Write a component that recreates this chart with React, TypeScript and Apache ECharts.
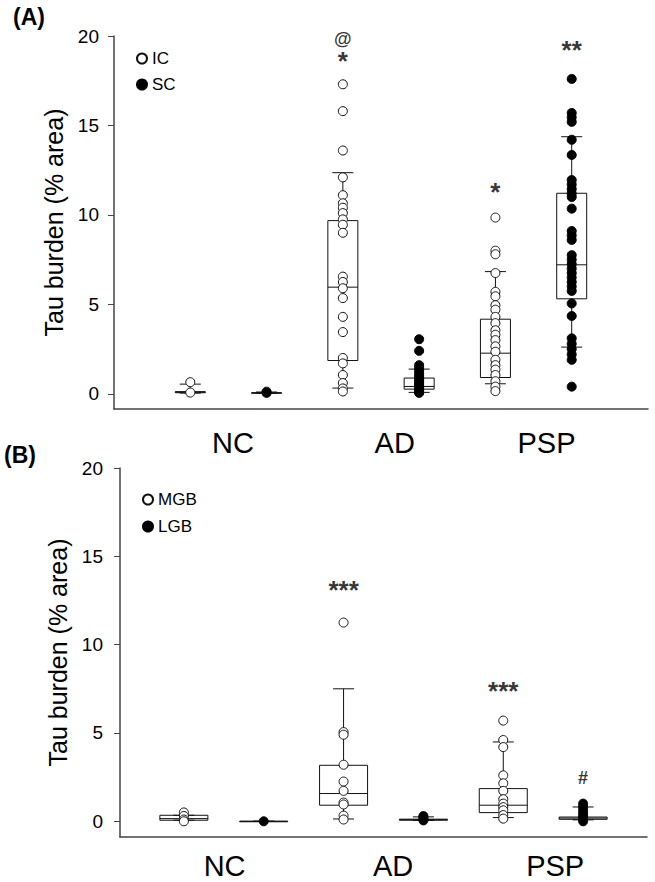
import React, { useEffect, useRef } from "react";
import * as echarts from "echarts";

// ---------- data ----------
const groupLabels = ["NC", "AD", "PSP"];
const openPos = [1, 3, 5];
const filledPos = [2, 4, 6];

// Panel A : IC (open) / SC (filled)
const icNC = [0.65, 0.07];
const icAD = [17.3, 15.8, 13.6, 12.1, 11.1, 10.65, 10.4, 10.1, 9.75, 9.45, 9.0, 6.55, 6.25, 5.9, 5.35, 4.3, 3.45, 2.0, 1.7, 1.05, 0.6, 0.3, 0.13];
const icPSP = [9.85, 8.0, 7.8, 6.75, 5.7, 5.45, 4.95, 4.7, 4.3, 3.95, 3.55, 3.3, 3.0, 2.65, 2.35, 1.9, 1.6, 1.35, 1.05, 0.7, 0.4, 0.15];
const scNC = [0.12, 0.05];
const scAD = [3.05, 2.4, 1.6, 1.45, 1.3, 1.15, 1.0, 0.9, 0.8, 0.7, 0.6, 0.5, 0.4, 0.3, 0.2, 0.1, 0.05];
const scPSP = [17.6, 15.7, 15.45, 15.2, 14.2, 13.35, 11.95, 11.7, 11.45, 11.2, 11.0, 10.35, 9.1, 8.85, 8.6, 7.75, 7.5, 7.25, 7.0, 6.75, 6.5, 6.25, 6.0, 5.75, 5.05, 4.35, 3.1, 2.8, 2.5, 2.2, 1.9, 0.4];
// box stats: [lowWhisker, Q1, median, Q3, highWhisker]
const icStats = [[0.04, 0.06, 0.09, 0.12, 0.54], [0.32, 1.86, 5.96, 9.68, 12.36], [0.56, 0.91, 2.27, 4.17, 6.83]];
const scStats = [[0.03, 0.04, 0.05, 0.06, 0.1], [0.08, 0.26, 0.41, 0.88, 1.38], [2.61, 5.31, 7.21, 11.21, 14.37]];
const annotTextA = ["@", "*", "*", "**"];
const annotXA = [3, 3, 5, 6];
const annotYA = [19.83, 18.93, 11.62, 19.54];

// Panel B : MGB (open) / LGB (filled)
const mgbNC = [0.5, 0.3, 0.1, 0.0];
const mgbAD = [11.25, 5.05, 4.9, 3.2, 2.25, 1.72, 1.06, 0.95, 0.32, 0.1];
const mgbPSP = [5.7, 4.6, 4.2, 2.6, 2.15, 1.72, 1.25, 1.0, 0.8, 0.62, 0.35, 0.15];
const lgbNC = [0.0];
const lgbAD = [0.3, 0.2, 0.12, 0.05];
const lgbPSP = [1.0, 0.8, 0.6, 0.4, 0.25, 0.1, 0.0];
const mgbStats = [[0.06, 0.06, 0.15, 0.34, 0.34], [0.13, 0.91, 1.57, 3.17, 7.5], [0.21, 0.49, 0.91, 1.85, 4.49]];
const lgbStats = [[0, 0, 0, 0, 0], [0.05, 0.06, 0.09, 0.12, 0.25], [0.08, 0.11, 0.18, 0.24, 0.81]];
const annotTextB = ["***", "***", "#"];
const annotXB = [3, 5, 6];
const annotYB = [13.41, 7.71, 2.44];

const yTicks = [0, 5, 10, 15, 20];

// ---------- layout ----------
const FONT = "'Liberation Sans', Arial, Helvetica, sans-serif";
const labelPosA = [1.56, 3.68, 5.67];
const labelPosB = [1.51, 3.62, 5.65];

function pts(pos: number[], groups: number[][]) {
  const out: number[][] = [];
  groups.forEach((g, i) => g.forEach((v) => out.push([pos[i], v])));
  return out;
}
function boxes(pos: number[], stats: number[][]) {
  return stats.map((s, i) => [pos[i], ...s]);
}

function boxSeries(name: string, axisIdx: number, data: number[][], boxW: number, capW: number) {
  return {
    type: "custom",
    name,
    xAxisIndex: axisIdx,
    yAxisIndex: axisIdx,
    z: 2,
    encode: { x: 0, y: [1, 2, 3, 4, 5] },
    data,
    renderItem: (params: any, api: any) => {
      const x = api.value(0);
      const p = [1, 2, 3, 4, 5].map((i) => api.coord([x, api.value(i)]));
      const cx = p[0][0];
      const [lo, q1, md, q3, hi] = p.map((q) => q[1]);
      const hw = boxW / 2;
      const cw = capW / 2;
      const st = { stroke: "#111", lineWidth: 1, fill: null };
      return {
        type: "group",
        children: [
          { type: "line", shape: { x1: cx, y1: hi, x2: cx, y2: q3 }, style: st },
          { type: "line", shape: { x1: cx, y1: q1, x2: cx, y2: lo }, style: st },
          { type: "line", shape: { x1: cx - cw, y1: hi, x2: cx + cw, y2: hi }, style: st },
          { type: "line", shape: { x1: cx - cw, y1: lo, x2: cx + cw, y2: lo }, style: st },
          { type: "rect", shape: { x: cx - hw, y: q3, width: boxW, height: Math.max(q1 - q3, 0.5) }, style: { stroke: "#111", lineWidth: 1, fill: "none" } },
          { type: "line", shape: { x1: cx - hw, y1: md, x2: cx + hw, y2: md }, style: st },
        ],
      };
    },
  };
}

function scatterSeries(name: string, axisIdx: number, data: number[][], open: boolean) {
  return {
    type: "scatter",
    name,
    xAxisIndex: axisIdx,
    yAxisIndex: axisIdx,
    z: 3,
    symbol: "circle",
    symbolSize: 9,
    itemStyle: open
      ? { color: "#fff", borderColor: "#111", borderWidth: 1, opacity: 1 }
      : { color: "#000", borderColor: "#000", borderWidth: 1, opacity: 1 },
    data,
  };
}

function annotSeries(axisIdx: number, texts: string[], xs: number[], ys: number[]) {
  return {
    type: "scatter",
    name: "annot" + axisIdx,
    xAxisIndex: axisIdx,
    yAxisIndex: axisIdx,
    symbolSize: 1,
    itemStyle: { color: "rgba(0,0,0,0)", borderWidth: 0 },
    z: 5,
    data: texts.map((t, i) => {
      const isStar = t.indexOf("*") >= 0;
      return {
        value: [xs[i], ys[i]],
        label: {
          show: true,
          position: "inside",
          formatter: t,
          fontFamily: FONT,
          fontWeight: "bold",
          fontSize: isStar ? 26 : 18,
          color: "#000",
          textBorderWidth: 0,
          textBorderColor: "transparent",
          offset: [0, isStar ? 6 : 0],
        },
      };
    }),
  };
}

function xAxisCfg(gridIndex: number, min: number, max: number, labelPos: number[], margin: number) {
  return {
    type: "value",
    gridIndex,
    min,
    max,
    axisLine: { show: true, onZero: false, lineStyle: { color: "#444", width: 1.5 } },
    axisTick: { show: false },
    splitLine: { show: false },
    axisLabel: {
      show: true,
      customValues: labelPos,
      margin,
      fontSize: 29,
      fontFamily: FONT,
      color: "#000",
      formatter: (v: number) => {
        const idx = labelPos.findIndex((p) => Math.abs(p - v) < 1e-6);
        return idx >= 0 ? groupLabels[idx] : "";
      },
    },
  };
}

function yAxisCfg(gridIndex: number, min: number, margin: number, nameGap: number) {
  return {
    type: "value",
    gridIndex,
    min,
    max: 20,
    name: "Tau burden (% area)",
    nameLocation: "middle",
    nameGap,
    nameTextStyle: { fontSize: 25, fontFamily: FONT, color: "#000" },
    axisLine: { show: true, onZero: false, lineStyle: { color: "#444", width: 1.5 } },
    axisTick: { show: true, customValues: yTicks, length: 6, lineStyle: { color: "#444", width: 1 } },
    splitLine: { show: false },
    axisLabel: { show: true, customValues: yTicks, margin, fontSize: 19, fontFamily: FONT, color: "#000" },
  };
}

export default function App() {
  const ref = useRef<HTMLDivElement>(null);
  useEffect(() => {
    if (!ref.current) return;
    const chart = echarts.init(ref.current, undefined, { renderer: "svg" });
    const legendText = { fontSize: 17, fontFamily: FONT, color: "#000" };
    const option: any = {
      animation: false,
      backgroundColor: "#fff",
      textStyle: { fontFamily: FONT },
      grid: [
        { left: 114, width: 534, top: 36, height: 373 },
        { left: 120, width: 527, top: 468, height: 369 },
      ],
      xAxis: [xAxisCfg(0, 0, 7, labelPosA, 19), xAxisCfg(1, 0.2, 6.8, labelPosB, 14)],
      yAxis: [yAxisCfg(0, -0.85, 15, 47), yAxisCfg(1, -0.89, 17, 48)],
      legend: [
        {
          data: ["IC", "SC"],
          orient: "vertical",
          left: 136,
          top: 50,
          itemWidth: 10,
          itemHeight: 10,
          itemGap: 9,
          padding: 0,
          textStyle: legendText,
        },
        {
          data: ["MGB", "LGB"],
          orient: "vertical",
          left: 142,
          top: 491,
          itemWidth: 10,
          itemHeight: 10,
          itemGap: 10,
          padding: 0,
          textStyle: legendText,
        },
      ],
      graphic: [
        { type: "text", left: 13, top: 5, style: { text: "(A)", fontSize: 23, fontWeight: "bold", fontFamily: FONT, fill: "#000" } },
        { type: "text", left: 4, top: 443, style: { text: "(B)", fontSize: 23, fontWeight: "bold", fontFamily: FONT, fill: "#000" } },
      ],
      series: [
        boxSeries("boxIC", 0, boxes(openPos, icStats), 30, 21),
        boxSeries("boxSC", 0, boxes(filledPos, scStats), 30, 21),
        scatterSeries("IC", 0, pts(openPos, [icNC, icAD, icPSP]), true),
        scatterSeries("SC", 0, pts(filledPos, [scNC, scAD, scPSP]), false),
        annotSeries(0, annotTextA, annotXA, annotYA),
        boxSeries("boxMGB", 1, boxes(openPos, mgbStats), 48, 21),
        boxSeries("boxLGB", 1, boxes(filledPos, lgbStats), 48, 21),
        scatterSeries("MGB", 1, pts(openPos, [mgbNC, mgbAD, mgbPSP]), true),
        scatterSeries("LGB", 1, pts(filledPos, [lgbNC, lgbAD, lgbPSP]), false),
        annotSeries(1, annotTextB, annotXB, annotYB),
      ],
    };
    chart.setOption(option);
    return () => chart.dispose();
  }, []);
  return <div ref={ref} style={{ position: "fixed", left: 0, top: 0, width: 655, height: 882, background: "#fff" }} />;
}
